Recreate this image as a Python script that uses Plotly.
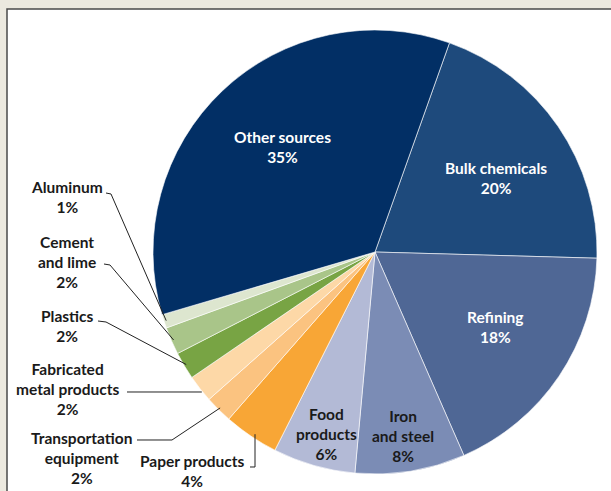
import math
import plotly.graph_objects as go

# Industrial energy use by source (share of total, %)
labels = ["Bulk chemicals", "Refining", "Iron and steel", "Food products",
          "Paper products", "Transportation equipment", "Fabricated metal products",
          "Plastics", "Cement and lime", "Aluminum", "Other sources"]
values = [20, 18, 8, 6, 4, 2, 2, 2, 2, 1, 35]
display_names = ["Bulk chemicals", "Refining", "Iron<br>and steel", "Food<br>products",
                 "Paper products", "Transportation<br>equipment", "Fabricated<br>metal products",
                 "Plastics", "Cement<br>and lime", "Aluminum", "Other sources"]

colors = ["#1E4A7C", "#4F6795", "#7B8CB5", "#B3BAD6", "#F8A636", "#FBC380",
          "#FDD8A7", "#78A444", "#A9C589", "#DDE6CF", "#022F65"]

W, H = 611, 491
CX, CY, R = 375, 252, 222
ROTATION = 19.6
FONT = "Lato"
FSIZE = 15.5


def px(x):
    return x / W


def py(y):
    return 1 - y / H


# mid-angle of every slice, clockwise from 12 o'clock
total = sum(values)
mids = []
acc = ROTATION
for v in values:
    span = 360 * v / total
    mids.append(acc + span / 2)
    acc += span


def polar(angle, frac):
    a = math.radians(angle)
    return CX + frac * R * math.sin(a), CY - frac * R * math.cos(a)


fig = go.Figure(go.Pie(
    labels=labels, values=values, sort=False, direction="clockwise",
    rotation=ROTATION, textinfo="none", textposition="none",
    hoverinfo="label+percent",
    marker=dict(colors=colors, line=dict(color="white", width=0.6)),
    domain=dict(x=[px(CX - R), px(CX + R)], y=[py(CY + R), py(CY - R)]),
    showlegend=False,
))

annotations = []
shapes = [dict(type="rect", xref="paper", yref="paper", layer="below",
               x0=px(7), x1=1.05, y0=-0.05, y1=py(9),
               fillcolor="white", line=dict(color="#4a4a4a", width=1.5))]


def label(x, y, text, color):
    return dict(x=px(x), y=py(y), xref="paper", yref="paper", showarrow=False,
                xanchor="center", yanchor="middle", text=f"<b>{text}</b>",
                font=dict(family=FONT, size=FSIZE, color=color), align="center")


# labels placed inside their slices: (radius fraction, angle offset, colour)
inside = {"Other sources": (0.63, 2, "white"), "Bulk chemicals": (0.64, 3, "white"),
          "Refining": (0.64, -2, "white"), "Iron and steel": (0.84, 0.5, "#1a1a1a"),
          "Food products": (0.85, -1, "#1a1a1a")}
for i, name in enumerate(labels):
    if name in inside:
        frac, off, col = inside[name]
        x, y = polar(mids[i] + off, frac)
        annotations.append(label(x, y, f"{display_names[i]}<br>{values[i]}%", col))

# labels outside the pie with leader lines: text centre, then elbow path
outside = {
    "Aluminum": ((67, 197), [(106, 193), (111, 194)]),
    "Cement and lime": ((67, 262), [(104, 264), (110, 265)]),
    "Plastics": ((67, 326), [(98, 321), (106, 322)]),
    "Fabricated metal products": ((67, 389), [(127, 392)]),
    "Transportation equipment": ((81, 458), [(137, 440), (172, 440)]),
    "Paper products": ((192, 471), [(250, 467), (255, 467), (255, 440)]),
}
for i, name in enumerate(labels):
    if name not in outside:
        continue
    (tx, ty), pts = outside[name]
    annotations.append(label(tx, ty, f"{display_names[i]}<br>{values[i]}%", "#1a1a1a"))
    ex, ey = polar(mids[i], 0.99)
    if name == "Fabricated metal products":
        ey = pts[0][1]
    if name == "Paper products":
        ex = pts[-1][0]
    seq = pts + [(ex, ey)]
    path = "M " + " L ".join(f"{px(a):.5f},{py(b):.5f}" for a, b in seq)
    shapes.append(dict(type="path", xref="paper", yref="paper", path=path,
                       line=dict(color="#222222", width=1)))

fig.update_layout(
    width=W, height=H, margin=dict(l=0, r=0, t=0, b=0),
    paper_bgcolor="#ECE9DF", plot_bgcolor="#ECE9DF",
    annotations=annotations, shapes=shapes,
)

fig.write_html("out.html")
